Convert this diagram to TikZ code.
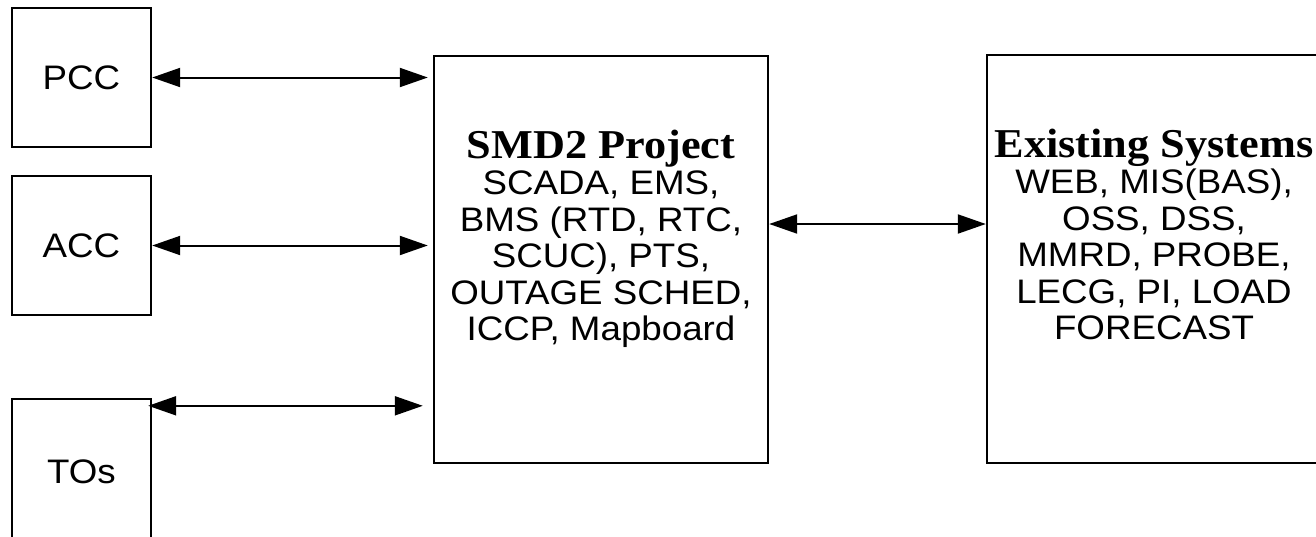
\documentclass[tikz,border=0pt]{standalone}
\usepackage{fontspec}
\setmainfont{Liberation Sans}[FakeStretch=1.08]
\newfontfamily\titlefont{Liberation Serif}[FakeStretch=1.08]
\usetikzlibrary{arrows.meta,positioning}

\begin{document}
\begin{tikzpicture}[x=1pt,y=-1pt,
    box/.style={draw, line width=2.4pt, inner sep=0pt, font=\fontsize{34}{36}\selectfont},
    sysbox/.style={box, minimum width=334pt, minimum height=407pt},
    listtext/.style={align=center, inner sep=0pt, font=\fontsize{34}{36.4}\selectfont},
    link/.style={{Triangle[length=28pt,width=19pt]}-{Triangle[length=28pt,width=19pt]}, line width=2pt},
    ]
\useasboundingbox (0,0) rectangle (1316,536);
\clip (0,0) rectangle (1316,536);

% control centres on the left
\node[box, minimum size=139pt] (PCC) at (81.5,77.5) {PCC};
\node[box, minimum size=139pt] (ACC) at (81.5,245.5) {ACC};
\node[box, minimum width=139pt, minimum height=146pt] (TOs) at (81.5,472) {TOs};

% the two systems
\node[sysbox] (SMD) at (601,259.5) {};
\node[sysbox, minimum height=408pt] (EXS) at (1154,259) {};

\node[listtext, below=75pt of SMD.north] (SMDtext) {{\titlefont\bfseries\fontsize{41}{36.4}\selectfont SMD2 Project}\\
    SCADA, EMS,\\ BMS (RTD, RTC,\\ SCUC), PTS,\\ OUTAGE SCHED,\\ ICCP, Mapboard};
\node[listtext, below=75pt of EXS.north] (EXStext) {{\titlefont\bfseries\fontsize{41}{36.4}\selectfont Existing Systems}\\
    WEB, MIS(BAS),\\ OSS, DSS,\\ MMRD, PROBE,\\ LECG, PI, LOAD\\ FORECAST};

\foreach \src in {PCC,ACC}
    \draw[link] (\src.east) -- ([xshift=-5pt]\src.east -| SMD.west);

\coordinate (TOsend) at ([xshift=-4pt,yshift=-8pt]TOs.north east);
\draw[link] (TOsend) -- ([xshift=-10pt]TOsend -| SMD.west);

\draw[link] ([yshift=35.5pt]SMD.east) -- ([yshift=35.5pt]SMD.east -| EXS.west);

\end{tikzpicture}
\end{document}
